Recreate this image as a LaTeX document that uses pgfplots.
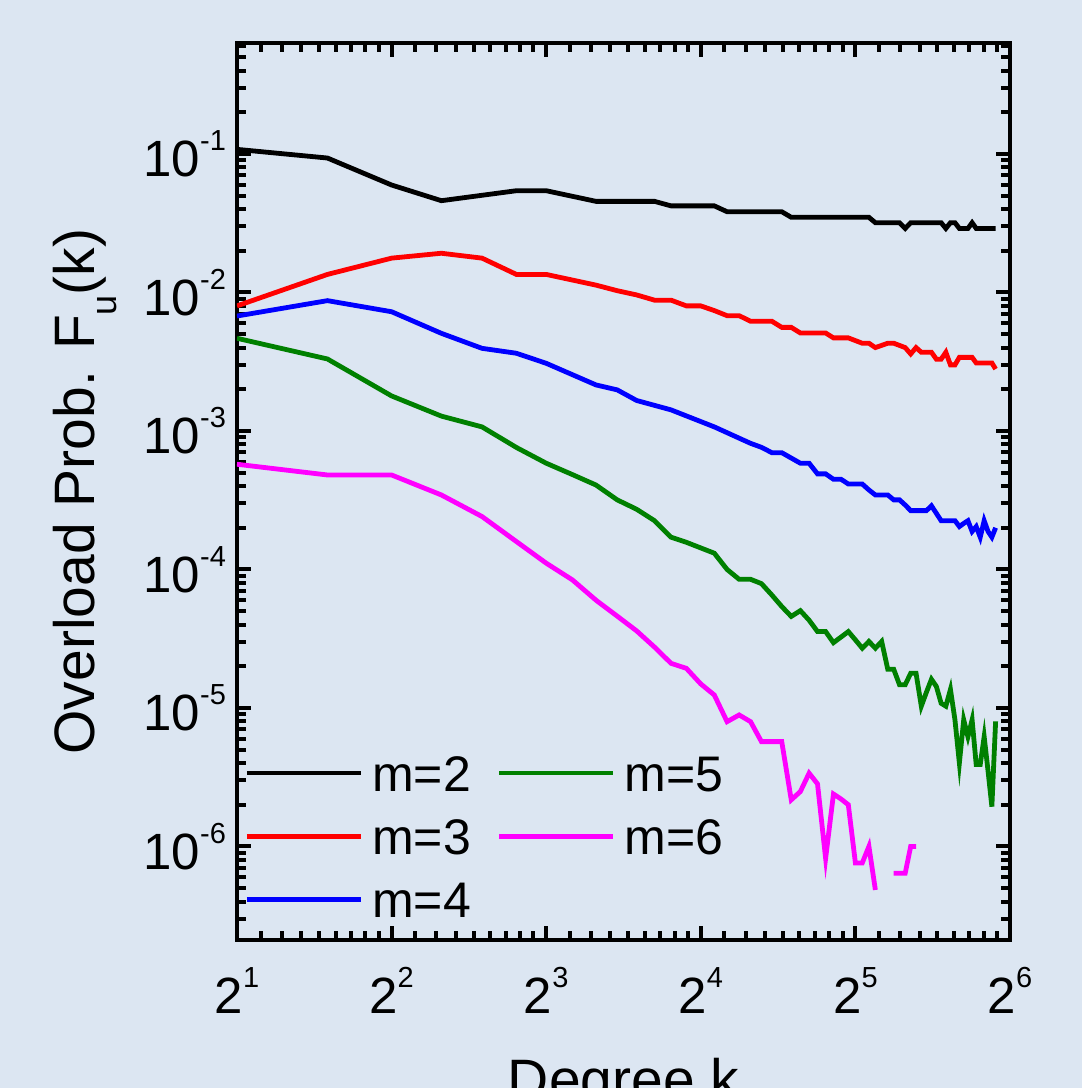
\documentclass[border=0pt]{standalone}
\usepackage{pgfplots}
\pgfplotsset{compat=1.18}
\usepackage{fontspec}
\setmainfont{Liberation Sans}
\definecolor{bgblue}{RGB}{220,230,242}
\definecolor{mgreen}{RGB}{0,128,0}
\definecolor{mmag}{RGB}{255,0,255}
\newcommand{\sups}[1]{\raisebox{13pt}{\fontsize{14.5}{14.5}\selectfont #1}}

\begin{document}
\begin{tikzpicture}
\path[use as bounding box, fill=bgblue] (-118.5pt,-74pt) rectangle (422.5pt,470pt);
\begin{axis}[
  at={(0pt,0pt)}, anchor=south west,
  scale only axis, width=386.5pt, height=448.5pt,
  xmode=log, ymode=log,
  xmin=2, xmax=64, ymin=2.11e-7, ymax=0.633,
  xtick={2,4,8,16,32,64},
  xticklabels={2\sups{1},2\sups{2},2\sups{3},2\sups{4},2\sups{5},2\sups{6}},
  ytick={1e-6,1e-5,1e-4,1e-3,1e-2,1e-1},
  yticklabels={10\sups{-6},10\sups{-5},10\sups{-4},10\sups{-3},10\sups{-2},10\sups{-1}},
  minor xtick={2.2222,2.4444,2.6667,2.8889,3.1111,3.3333,3.5556,3.7778,
               4.4444,4.8889,5.3333,5.7778,6.2222,6.6667,7.1111,7.5556,
               8.8889,9.7778,10.6667,11.5556,12.4444,13.3333,14.2222,15.1111,
               17.7778,19.5556,21.3333,23.1111,24.8889,26.6667,28.4444,30.2222,
               35.5556,39.1111,42.6667,46.2222,49.7778,53.3333,56.8889,60.4444},
  minor ytick={3e-7,4e-7,5e-7,6e-7,7e-7,8e-7,9e-7,
               2e-6,3e-6,4e-6,5e-6,6e-6,7e-6,8e-6,9e-6,
               2e-5,3e-5,4e-5,5e-5,6e-5,7e-5,8e-5,9e-5,
               2e-4,3e-4,4e-4,5e-4,6e-4,7e-4,8e-4,9e-4,
               2e-3,3e-3,4e-3,5e-3,6e-3,7e-3,8e-3,9e-3,
               2e-2,3e-2,4e-2,5e-2,6e-2,7e-2,8e-2,9e-2,
               2e-1,3e-1,4e-1,5e-1,6e-1},
  tick align=inside,
  major tick length=7pt, minor tick length=4.5pt,
  tick style={black, line width=2pt},
  axis line style={line width=2.2pt},
  tick label style={font=\fontsize{25.5}{28}\selectfont},
  xticklabel style={yshift=-10pt},
  yticklabel style={xshift=-2pt},
  xlabel={Degree k},
  ylabel={Overload Prob. F\raisebox{-11pt}{\fontsize{18}{18}\selectfont u}(k)},
  xlabel style={font=\fontsize{28.5}{32}\selectfont, at={(axis description cs:0.5,0)},
    anchor=north, inner sep=0pt, yshift=-59pt},
  ylabel style={font=\fontsize{28.5}{32}\selectfont, at={(axis description cs:-0.238,0.5)},
    anchor=north, inner sep=0pt},
  unbounded coords=jump,
  legend columns=2,
  legend image code/.code={\draw[#1] (0pt,0pt) -- (57pt,0pt);},
  legend style={at={(axis description cs:0.0091,0.2067)}, anchor=north west,
    draw=none, fill=none, inner sep=0pt,
    font=\fontsize{25}{28}\selectfont,
    nodes={inner sep=0pt, text height=18pt, text depth=0pt},
    row sep=13.7pt,
    /tikz/every odd column/.append style={column sep=4.5pt},
    /tikz/every even column/.append style={column sep=13pt}},
  every axis plot/.append style={line width=2.4pt},
]
% m=2
\addplot[black] table {
2 0.108
3 0.0935
4 0.0597
5 0.046
7 0.0543
8 0.0543
10 0.0455
13 0.0455
14 0.0422
17 0.0422
18 0.0383
23 0.0383
24 0.0349
34 0.0349
35 0.0319
39 0.0319
40 0.029
41 0.0319
47 0.0319
48 0.029
49 0.0319
50 0.0319
51 0.029
53 0.029
54 0.0319
55 0.029
60 0.029
};
\addlegendentry{m=2}
% m=5
\addplot[mgreen] table {
2 0.00467
3 0.00331
4 0.00179
5 0.00128
6 0.00107
7 0.00076
8 0.000585
9 0.000484
10 0.000407
11 0.000318
12 0.000272
13 0.000225
14 0.000171
15 0.000157
16 0.000143
17 0.000131
18 0.000100
19 0.0000849
20 0.0000849
21 0.0000790
22 0.0000654
23 0.0000540
24 0.0000458
25 0.0000504
26 0.0000430
27 0.0000356
28 0.0000356
29 0.0000296
30 0.0000325
31 0.0000356
32 0.0000310
33 0.0000270
34 0.0000302
35 0.0000270
36 0.0000302
37 0.0000190
38 0.0000190
39 0.0000147
40 0.0000147
41 0.0000178
42 0.0000178
43 0.0000103
44 0.0000130
45 0.0000161
46 0.0000143
47 0.0000108
48 0.0000103
49 0.0000136
50 0.0000082
51 0.0000040
52 0.0000082
53 0.0000062
54 0.0000082
55 0.0000039
56 0.0000039
57 0.0000062
58 0.0000035
59 0.00000194
60 0.0000080
};
\addlegendentry{m=5}
% m=3
\addplot[red] table {
2 0.0080
3 0.0135
4 0.0177
5 0.0192
6 0.0177
7 0.0135
8 0.0135
10 0.0113
11 0.0103
12 0.0096
13 0.0088
14 0.0088
15 0.0080
16 0.0080
17 0.0074
18 0.0068
19 0.0068
20 0.0062
22 0.0062
23 0.0056
24 0.0056
25 0.0051
28 0.0051
29 0.0047
31 0.0047
33 0.0043
34 0.0043
35 0.0040
37 0.0043
38 0.0043
40 0.0040
41 0.0036
42 0.0040
43 0.0037
45 0.0037
46 0.0033
47 0.0033
48 0.0037
49 0.0030
50 0.0030
51 0.0034
54 0.0034
55 0.0031
59 0.0031
60 0.0028
};
\addlegendentry{m=3}
% m=6
\addplot[mmag] table {
2 5.75e-4
3 4.81e-4
4 4.81e-4
5 3.45e-4
6 2.41e-4
7 1.59e-4
8 1.11e-4
9 8.4e-5
10 6.0e-5
11 4.6e-5
12 3.6e-5
13 2.75e-5
14 2.1e-5
15 1.93e-5
16 1.49e-5
17 1.24e-5
18 7.96e-6
19 8.9e-6
20 7.96e-6
21 5.71e-6
22 5.71e-6
23 5.71e-6
24 2.17e-6
25 2.49e-6
26 3.38e-6
27 2.83e-6
28 8.2e-7
29 2.39e-6
30 2.2e-6
31 2.0e-6
32 7.6e-7
33 7.6e-7
34 1.0e-6
35 4.85e-7
36 nan
37 nan
38 6.4e-7
39 6.4e-7
40 6.4e-7
41 1.0e-6
42 1.0e-6
};
\addlegendentry{m=6}
% m=4
\addplot[blue] table {
2 0.00676
3 0.00873
4 0.00726
5 0.00507
6 0.00395
7 0.00364
8 0.00308
10 0.00215
11 0.00198
12 0.00166
14 0.00142
17 0.00107
20 0.000814
21 0.000762
22 0.000697
23 0.000697
25 0.000585
26 0.000585
27 0.000490
28 0.000490
29 0.000448
30 0.000448
31 0.000414
33 0.000414
34 0.000375
35 0.000345
37 0.000345
38 0.000318
39 0.000318
40 0.000292
41 0.000266
44 0.000266
45 0.000288
47 0.000225
50 0.000225
51 0.000204
52 0.000215
53 0.000225
54 0.000188
55 0.000204
56 0.000171
57 0.000225
58 0.000188
59 0.000171
60 0.000200
};
\addlegendentry{m=4}
\end{axis}
\end{tikzpicture}
\end{document}
